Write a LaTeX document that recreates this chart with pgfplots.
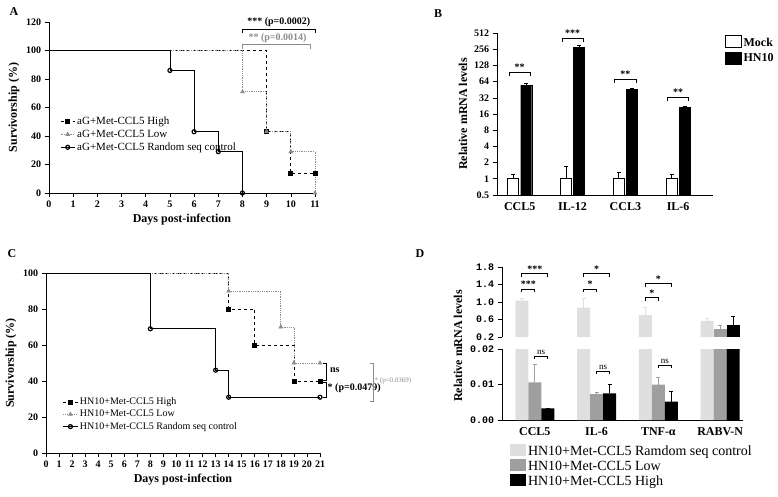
\documentclass[border=0pt]{standalone}
\usepackage{pgfplots}
\pgfplotsset{compat=1.18}
\usepackage{fontspec}
\setmainfont{Liberation Serif}
\newfontfamily\monofont{Liberation Mono}
\definecolor{lg}{gray}{0.55}
\newcommand\brk[5]{\draw[semithick] (axis cs:#1,#4) -- (axis cs:#1,#3) -- (axis cs:#2,#3) -- (axis cs:#2,#4);}
\begin{document}
\begin{tikzpicture}
\useasboundingbox (0pt,0pt) rectangle (778pt,496pt);
\pgfplotsset{every axis/.append style={scale only axis, axis lines*=left, anchor=south west,
  tick label style={font=\bfseries\normalsize}, label style={font=\bfseries\large},
  /pgf/number format/assume math mode=true, tick align=outside, tick style={black, semithick}, axis line style={semithick}, clip=false},
  kmleg/.style={legend image code/.code={\draw[##1, mark indices={2}] plot coordinates {(0cm,0cm) (0.25cm,0cm) (0.5cm,0cm)};}}}
% ---------- A
\node[font=\bfseries\large] at (14pt,484pt) {A};
\begin{axis}[at={(49pt,303pt)}, width=266pt, height=171pt, xmin=0, xmax=11, ymin=0, ymax=120,
  xtick={0,...,11}, ytick={0,20,...,120}, xlabel={Days post-infection}, ylabel={Survivorship (\%)},
  legend style={at={(0.03,0.47)}, anchor=north west, draw=none, fill=none, font=\fontsize{11}{12}\selectfont, row sep=0pt},
  legend cell align=left, kmleg]
\addplot[black, thick, dashed, const plot mark left, mark=square*, mark options={solid}, mark indices={2,...,4}] coordinates {(0,100)(9,43)(10,14)(11,14)};
\addplot[lg, thick, densely dotted, const plot mark left, mark=triangle*, mark options={solid}, mark indices={2,...,5}] coordinates {(0,100)(8,71)(9,43)(10,29)(11,0)};
\addplot[black, thick, const plot mark left, mark=o, mark options={solid, line width=1.2pt}, mark indices={2,...,5}] coordinates {(0,100)(5,86)(6,43)(7,29)(8,0)};
\legend{aG+Met-CCL5 High, aG+Met-CCL5 Low, aG+Met-CCL5 Random seq control}
\draw[black, semithick] (axis cs:8,112) -- (axis cs:8,115) -- (axis cs:11,115) -- (axis cs:11,112);
\node[font=\bfseries, above] at (axis cs:9.5,114) {*** (p=0.0002)};
\draw[lg, semithick] (axis cs:8,101) -- (axis cs:8,104) -- (axis cs:10.8,104) -- (axis cs:10.8,101);
\node[lg, font=\bfseries, above] at (axis cs:9.45,103) {** (p=0.0014)};
\end{axis}
% ---------- B
\node[font=\bfseries\large] at (438pt,482pt) {B};
\begin{axis}[at={(497pt,301pt)}, width=216pt, height=162pt, ybar=2pt, bar width=11pt,
  ymode=log, log basis y=2, ymin=0.5, ymax=512, ytick={0.5,1,2,4,8,16,32,64,128,256,512},
  yticklabels={0.5,1,2,4,8,16,32,64,128,256,512},
  xmin=-0.43, xmax=3.66, xtick={0,1,2,3}, xticklabels={CCL5,IL-12,CCL3,IL-6},
  x tick style={draw=none}, x tick label style={font=\bfseries\large}, ylabel={Relative mRNA levels},
  log origin=infty,
  legend style={at={(1.04,1.0)}, anchor=north west, draw=none, fill=none, font=\bfseries\large, row sep=2pt},
  legend image code/.code={\draw[#1] (0pt,-5pt) rectangle (16pt,7pt);},
  legend cell align=left]
\addplot[draw=black, fill=white, thick, error bars/.cd, y dir=plus, y explicit, error bar style={thick}] coordinates {(0,1)+-(0,0.2) (1,1)+-(0,0.7) (2,1)+-(0,0.35) (3,1)+-(0,0.2)};
\addplot[draw=black, fill=black, error bars/.cd, y dir=plus, y explicit, error bar style={thick}] coordinates {(0,55)+-(0,4) (1,280)+-(0,25) (2,46)+-(0,3) (3,21)+-(0,1.5)};
\legend{Mock, HN10}
\brk{-0.2}{0.2}{97}{82}{} \node[font=\bfseries, above, inner sep=1pt] at (axis cs:0,97) {**};
\brk{0.8}{1.2}{415}{350}{} \node[font=\bfseries, above, inner sep=1pt] at (axis cs:1,415) {***};
\brk{1.8}{2.2}{72}{61}{} \node[font=\bfseries, above, inner sep=1pt] at (axis cs:2,72) {**};
\brk{2.8}{3.2}{33}{28}{} \node[font=\bfseries, above, inner sep=1pt] at (axis cs:3,33) {**};
\end{axis}
% ---------- C
\node[font=\bfseries\large] at (12pt,242pt) {C};
\begin{axis}[at={(46pt,43pt)}, width=274pt, height=180pt, xmin=0, xmax=21, ymin=0, ymax=100,
  xtick={0,...,21}, ytick={0,20,...,100}, xlabel={Days post-infection}, ylabel={Survivorship (\%)},
  legend style={at={(0.05,0.33)}, anchor=north west, draw=none, fill=none, font=\normalsize, row sep=0pt},
  legend cell align=left, kmleg]
\addplot[black, thick, dashed, const plot mark left, mark=square*, mark options={solid}, mark indices={2,...,5}] coordinates {(0,100)(14,80)(16,60)(19,40)(21,40)};
\addplot[lg, thick, densely dotted, const plot mark left, mark=triangle*, mark options={solid}, mark indices={2,...,5}] coordinates {(0,100)(14,90)(18,70)(19,50)(21,50)};
\addplot[black, thick, const plot mark left, mark=o, mark options={solid, line width=1.2pt}, mark indices={2,...,5}] coordinates {(0,100)(8,69)(13,46)(14,31)(21,31)};
\legend{HN10+Met-CCL5 High, HN10+Met-CCL5 Low, HN10+Met-CCL5 Random seq control}
\draw[semithick] (axis cs:21.2,50) -- (axis cs:21.5,50) -- (axis cs:21.5,40.5) -- (axis cs:21.2,40.5);
\node[font=\bfseries, right] at (axis cs:21.5,46) {ns};
\draw[semithick] (axis cs:21.2,39.5) -- (axis cs:21.5,39.5) -- (axis cs:21.5,31) -- (axis cs:21.2,31);
\node[font=\bfseries, right, inner sep=1pt] at (axis cs:21.5,36) {* (p=0.0479)};
\draw[lg, semithick] (axis cs:24.8,50) -- (axis cs:25.1,50) -- (axis cs:25.1,29) -- (axis cs:24.8,29);
\node[lg, font=\scriptsize, right, inner sep=1pt] at (axis cs:25.1,40) {* (p=0.0369)};
\end{axis}
% ---------- D
\node[font=\bfseries\large] at (420pt,242pt) {D};
\pgfplotsset{dbar/.style={ybar=0pt, bar width=13pt, xmin=-0.53, xmax=3.37, width=241pt,
  clip=true, clip mode=individual, scaled y ticks=false,
  error bars/y dir=plus, error bars/y explicit, error bars/error bar style={thick}}}
\begin{axis}[dbar, at={(502pt,159pt)}, height=70pt, ymin=0.2, ymax=1.8, ytick={0.2,0.6,1.0,1.4,1.8},
  yticklabel style={font=\monofont\bfseries\normalsize},
  y tick label style={/pgf/number format/fixed, /pgf/number format/fixed zerofill, /pgf/number format/precision=1},
  hide x axis, axis y line*=left]
\addplot[fill=gray!25, draw=none, error bars/error bar style={gray!25, thick}] coordinates {(0,1.03)+-(0,0.05) (1,0.87)+-(0,0.22) (2,0.7)+-(0,0.17) (3,0.57)+-(0,0.05)};
\addplot[fill=gray!75, draw=none, error bars/error bar style={gray!75, thick}] coordinates {(3,0.38)+-(0,0.1)};
\addplot[fill=black, draw=none] coordinates {(3,0.48)+-(0,0.2)};
\brk{-0.21}{0}{1.3}{1.23}{} \node[font=\bfseries, above, inner sep=1pt] at (axis cs:-0.105,1.3) {***};
\brk{-0.21}{0.21}{1.65}{1.58}{} \node[font=\bfseries, above, inner sep=1pt] at (axis cs:0,1.65) {***};
\brk{0.79}{1}{1.3}{1.23}{} \node[font=\bfseries, above, inner sep=1pt] at (axis cs:0.895,1.3) {*};
\brk{0.79}{1.21}{1.65}{1.58}{} \node[font=\bfseries, above, inner sep=1pt] at (axis cs:1,1.65) {*};
\brk{1.79}{2}{1.1}{1.03}{} \node[font=\bfseries, above, inner sep=1pt] at (axis cs:1.895,1.1) {*};
\brk{1.79}{2.21}{1.42}{1.35}{} \node[font=\bfseries, above, inner sep=1pt] at (axis cs:2,1.42) {*};
\end{axis}
\begin{axis}[dbar, at={(502pt,76pt)}, height=71pt, ymin=0, ymax=0.02, ytick={0,0.01,0.02},
  yticklabel style={font=\monofont\bfseries\normalsize},
  y tick label style={/pgf/number format/fixed, /pgf/number format/fixed zerofill, /pgf/number format/precision=2},
  xtick={0,1,2,3}, xticklabels={CCL5,IL-6,TNF-α,RABV-N}, x tick style={draw=none},
  x tick label style={font=\bfseries\large}, axis x line*=bottom, axis y line*=left,
  legend style={at={(0.02,-0.3)}, anchor=north west, draw=none, fill=none, font=\fontsize{14}{16}\selectfont, row sep=0pt},
  legend image code/.code={\fill[#1] (0pt,-5pt) rectangle (16pt,7pt);},
  legend cell align=left]
\addplot[fill=gray!25, draw=none] coordinates {(0,1.03) (1,0.87) (2,0.7) (3,0.57)};
\addplot[fill=gray!75, draw=none, error bars/error bar style={gray!75, thick}] coordinates {(0,0.0106)+-(0,0.005) (1,0.0073)+-(0,0.0005) (2,0.010)+-(0,0.002) (3,0.38)};
\addplot[fill=black, draw=none, error bars/error bar style={black, thick}] coordinates {(0,0.0033)+-(0,0) (1,0.0075)+-(0,0.0025) (2,0.0052)+-(0,0.003) (3,0.48)};
\legend{HN10+Met-CCL5 Ramdom seq control, HN10+Met-CCL5 Low, HN10+Met-CCL5 High}
\brk{0}{0.21}{0.018}{0.0172}{} \node[font=\small, above, inner sep=1pt] at (axis cs:0.105,0.018) {ns};
\brk{1}{1.21}{0.0138}{0.013}{} \node[font=\small, above, inner sep=1pt] at (axis cs:1.105,0.0138) {ns};
\brk{2}{2.21}{0.0155}{0.0147}{} \node[font=\small, above, inner sep=1pt] at (axis cs:2.105,0.0155) {ns};
\end{axis}
\node[rotate=90, font=\bfseries\large] at (458pt,150pt) {Relative mRNA levels};
\end{tikzpicture}
\end{document}
